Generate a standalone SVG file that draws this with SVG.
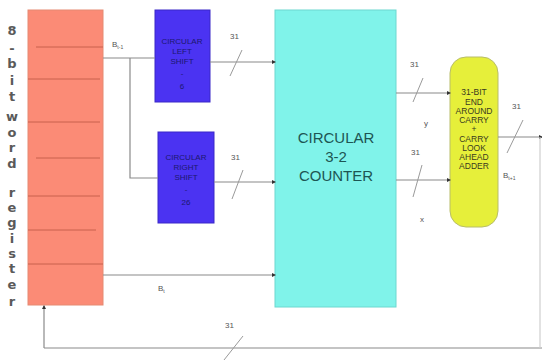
<svg xmlns="http://www.w3.org/2000/svg" width="542" height="360" viewBox="0 0 542 360">
<style>
.ln{fill:none;stroke:#8a8a8a;stroke-width:1.2}
.sl{fill:none;stroke:#9a9a9a;stroke-width:1}
.lbl{font-family:"Liberation Sans",Arial,sans-serif;font-size:8px;fill:#555}
.vt{font-family:"DejaVu Sans",sans-serif;font-size:13px;font-weight:bold;fill:#5a5a5a;text-anchor:middle}
.bt{font-family:"Liberation Sans Narrow","Liberation Sans",Arial,sans-serif;font-size:8px;fill:#1c1870;text-anchor:middle}
.ct{font-family:"Liberation Sans",Arial,sans-serif;font-size:15px;fill:#1d5553;text-anchor:middle}
.yt{font-family:"Liberation Sans Narrow","Liberation Sans",Arial,sans-serif;font-size:8.5px;fill:#3a3a20;text-anchor:middle}
.rl{stroke:#c8604c;stroke-width:1}
</style>
<defs>
<marker id="ah" markerWidth="4" markerHeight="4" refX="3" refY="2" orient="auto" markerUnits="userSpaceOnUse">
<path d="M0,0 L4,2 L0,4 Z" fill="#333"/>
</marker>
</defs>
<rect width="542" height="360" fill="#fff"/>
<g id="label-register">
<text class="vt" x="12" y="35">8</text>
<text class="vt" x="12" y="53">-</text>
<text class="vt" x="12" y="68">b</text>
<text class="vt" x="12" y="85">i</text>
<text class="vt" x="12" y="101">t</text>
<text class="vt" x="12" y="121">w</text>
<text class="vt" x="12" y="137">o</text>
<text class="vt" x="12" y="152">r</text>
<text class="vt" x="12" y="168">d</text>
<text class="vt" x="12" y="197">r</text>
<text class="vt" x="12" y="212">e</text>
<text class="vt" x="12" y="227">g</text>
<text class="vt" x="12" y="243">i</text>
<text class="vt" x="12" y="258">s</text>
<text class="vt" x="12" y="273">t</text>
<text class="vt" x="12" y="289">e</text>
<text class="vt" x="12" y="306">r</text>
</g>
<g id="register">
<rect x="28" y="10" width="75" height="295" fill="#fb8b76" stroke="#e58a72" stroke-width="1"/>
<line class="rl" x1="36" y1="47" x2="103" y2="47"/>
<line class="rl" x1="28" y1="79" x2="100" y2="79"/>
<line class="rl" x1="28" y1="122" x2="100" y2="122"/>
<line class="rl" x1="36" y1="158" x2="100" y2="158"/>
<line class="rl" x1="28" y1="196" x2="100" y2="196"/>
<line class="rl" x1="28" y1="230" x2="96" y2="230"/>
<line class="rl" x1="28" y1="264" x2="103" y2="264"/>
</g>
<g id="left-shift">
<rect x="155" y="10" width="55" height="92" fill="#4b33f2" stroke="#3a28c8" stroke-width="1"/>
<text class="bt" x="182" y="44">CIRCULAR</text>
<text class="bt" x="182" y="54">LEFT</text>
<text class="bt" x="182" y="64">SHIFT</text>
<text class="bt" x="182" y="76">-</text>
<text class="bt" x="182" y="89">6</text>
</g>
<g id="right-shift">
<rect x="158" y="132" width="56" height="91" fill="#4b33f2" stroke="#3a28c8" stroke-width="1"/>
<text class="bt" x="186" y="160">CIRCULAR</text>
<text class="bt" x="186" y="170">RIGHT</text>
<text class="bt" x="186" y="180">SHIFT</text>
<text class="bt" x="186" y="192">-</text>
<text class="bt" x="186" y="205">26</text>
</g>
<g id="counter">
<rect x="275" y="10" width="121" height="297" fill="#80f3ea" stroke="#6cd8d0" stroke-width="1"/>
<text class="ct" x="336" y="143">CIRCULAR</text>
<text class="ct" x="336" y="162">3-2</text>
<text class="ct" x="336" y="181">COUNTER</text>
</g>
<g id="adder">
<rect x="450" y="57" width="48" height="170" rx="16" fill="#e6ef3a" stroke="#b8bd6a" stroke-width="1"/>
<text class="yt" x="474" y="95">31-BIT</text>
<text class="yt" x="474" y="105">END</text>
<text class="yt" x="474" y="114">AROUND</text>
<text class="yt" x="474" y="123">CARRY</text>
<text class="yt" x="474" y="132">+</text>
<text class="yt" x="474" y="142">CARRY</text>
<text class="yt" x="474" y="151">LOOK</text>
<text class="yt" x="474" y="160">AHEAD</text>
<text class="yt" x="474" y="169">ADDER</text>
</g>
<g id="connectors">
<path class="ln" d="M103,58 H155"/>
<path class="ln" d="M130,58 V178 H158"/>
<path class="ln" d="M210,62 H275" marker-end="url(#ah)"/>
<line class="sl" x1="230" y1="76" x2="242" y2="50"/>
<path class="ln" d="M214,182 H275" marker-end="url(#ah)"/>
<line class="sl" x1="232" y1="199" x2="243" y2="170"/>
<path class="ln" d="M103,275 H275" marker-end="url(#ah)"/>
<path class="ln" d="M396,93 H450" marker-end="url(#ah)"/>
<line class="sl" x1="413" y1="102" x2="423" y2="78"/>
<path class="ln" d="M396,180 H450" marker-end="url(#ah)"/>
<line class="sl" x1="413" y1="197" x2="422" y2="165"/>
<path class="ln" d="M498,137 H542" marker-end="url(#ah)"/>
<line class="sl" x1="507" y1="153" x2="523" y2="120"/>
<path class="ln" d="M44,348 H542"/>
<path class="ln" d="M540,137 V348" style="stroke:#cfcfcf"/>
<path class="ln" d="M44,348 V306" marker-end="url(#ah)"/>
<line class="sl" x1="224" y1="360" x2="243" y2="336"/>
</g>
<g id="labels">
<text class="lbl" x="112" y="47">B<tspan font-size="5" dy="2">t-1</tspan></text>
<text class="lbl" x="230" y="39">31</text>
<text class="lbl" x="231" y="160">31</text>
<text class="lbl" x="158" y="291">B<tspan font-size="5" dy="2">t</tspan></text>
<text class="lbl" x="410" y="67">31</text>
<text class="lbl" x="424" y="126">y</text>
<text class="lbl" x="411" y="155">31</text>
<text class="lbl" x="420" y="222">x</text>
<text class="lbl" x="512" y="109">31</text>
<text class="lbl" x="503" y="178">B<tspan font-size="5" dy="2">t+1</tspan></text>
<text class="lbl" x="225" y="328">31</text>
</g>
</svg>
